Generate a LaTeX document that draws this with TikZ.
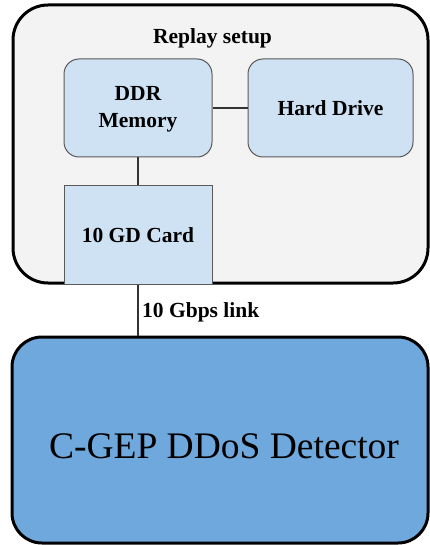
\documentclass[tikz,border=0pt]{standalone}
\usepackage{fontspec}
\setmainfont{Liberation Serif}[BoldFont={Liberation Serif Bold}]
\begin{document}
\begin{tikzpicture}[x=1pt,y=1pt,
  lbl/.style={font=\fontsize{21.5}{27}\selectfont\bfseries, inner sep=0pt, align=center},
  unitbox/.style={draw=black!65, line width=1pt, fill=unitfill, inner sep=0pt},
  wire/.style={draw=black!80, line width=1.4pt}]
\definecolor{panelfill}{HTML}{F3F3F3}
\definecolor{unitfill}{HTML}{CFE2F3}
\definecolor{detfill}{HTML}{6FA8DC}
\useasboundingbox (0,0) rectangle (430,-545);

% replay setup panel
\node[draw=black, line width=3pt, fill=panelfill, rounded corners=35pt,
      minimum width=415pt, minimum height=278pt, inner sep=0pt]
      (setup) at (220.5,-144) {};
\node[lbl] (title) at (212.5,-38) {Replay setup};

% components inside the panel
\node[unitbox, rounded corners=15pt, minimum width=148pt, minimum height=98pt]
      (ddr) at (138,-108) {};
\node[lbl] at ([yshift=-1.5pt]ddr.center) {DDR\\Memory};
\node[unitbox, rounded corners=15pt, minimum width=165pt, minimum height=98pt]
      (hdd) at (330.5,-108) {};
\node[lbl] at (hdd.center) {Hard Drive};
\node[unitbox, minimum width=148pt, minimum height=98pt]
      (card) at (138,-235) {};
\node[lbl] at (card.center) {10 GD Card};

% detector
\node[draw=black, line width=3pt, fill=detfill, rounded corners=30pt,
      minimum width=416pt, minimum height=206pt, inner sep=0pt]
      (det) at (220,-440) {};
\node[font=\fontsize{37.5}{42}\selectfont, inner sep=0pt] (dettext) at (224,-446) {C-GEP DDoS Detector};

% connections
\draw[wire] (ddr.east) -- (hdd.west);
\draw[wire] (ddr.south) -- (card.north);
\draw[wire] (card.south) -- (det.north -| card.south);
\node[lbl, anchor=west] (link) at (142,-312) {10 Gbps link};
\end{tikzpicture}
\end{document}
